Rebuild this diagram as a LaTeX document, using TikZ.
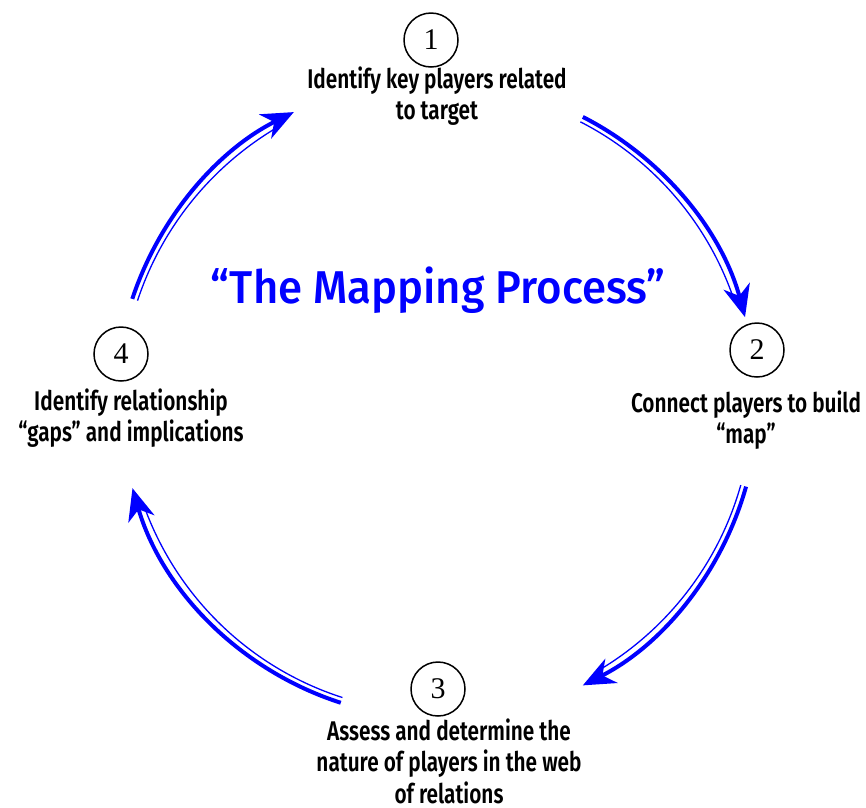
\documentclass[tikz,border=0pt]{standalone}
\usepackage{fontspec}
\setmainfont{Fira Sans}[FakeStretch=0.95, UprightFont={* Medium}]
\newfontfamily\labfont{Fira Sans}[FakeStretch=0.77, UprightFont={* SemiBold}]
\newfontfamily\numfont{Liberation Serif}
\usetikzlibrary{arrows.meta,calc}

\begin{document}
\begin{tikzpicture}[x=1pt,y=-1pt,
  numcircle/.style={circle, draw=black, line width=1.5pt, minimum size=54pt,
    inner sep=0pt, font=\numfont\fontsize{30}{30}\selectfont},
  steplabel/.style={align=center, inner sep=0pt,
    font=\labfont\fontsize{27}{31.5}\selectfont},
  outerline/.style={draw=blue, line width=4pt},
  innerline/.style={draw=blue, line width=1.3pt},
  head/.style={-{Stealth[length=32pt,width=27pt,inset=10pt]}}
]
\useasboundingbox (0,0) rectangle (866,807);

% step markers
\node[numcircle] (n1) at (431,40) {1};
\node[numcircle] (n2) at (757,350) {2};
\node[numcircle] (n3) at (438,689) {3};
\node[numcircle] (n4) at (121,354) {4};

% step descriptions
\node[steplabel] (t1) at (437,96) {Identify key players related\\to target};
\node[steplabel] (t2) at (746,420) {Connect players to build\\“map”};
\node[steplabel] (t3) at (449,761) {Assess and determine the\\nature of players in the web\\of relations};
\node[steplabel] (t4) at (131,418) {Identify relationship\\“gaps” and implications};

% title
\node[text=blue, inner sep=0pt, font=\fontsize{46}{46}\selectfont] (title) at (438,290) {“The Mapping Process”};

% cycle arrows: thick outer stroke, thin inner stroke
\coordinate (hub) at (438,400);
\foreach \a/\b/\r [count=\i] in {-62.9/-15.1/318, 15.7/63.1/320, 107.8/163.9/318, 198.3/243.4/322}{
  \coordinate (s\i) at ($(hub)+(\a:\r)$);
  \coordinate (si\i) at ($(hub)+(\a:\r-5.5)$);
  \draw[outerline, head] (s\i) arc[start angle=\a, end angle=\b, radius=\r];
  \draw[innerline] (si\i) arc[start angle=\a, end angle=\b-4, radius=\r-5.5];
}
\end{tikzpicture}
\end{document}
